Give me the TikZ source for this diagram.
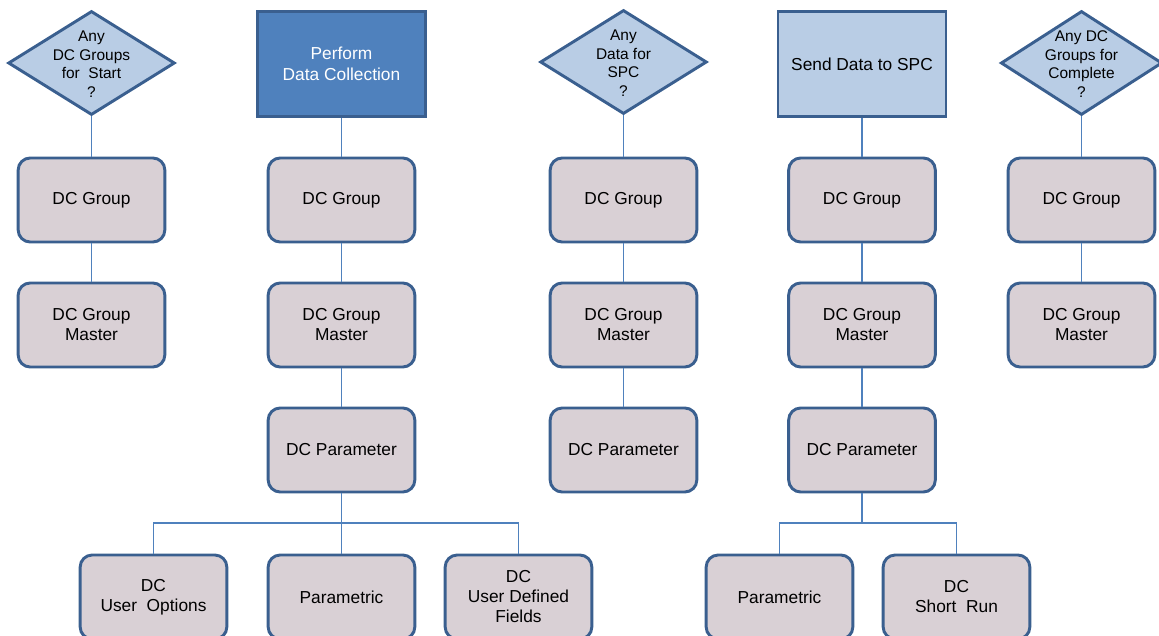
\documentclass[tikz,border=0pt]{standalone}
\usepackage{fontspec}
\setmainfont{Liberation Sans}
\usepackage{xcolor}
\usepackage{tikz}
\usetikzlibrary{shapes.geometric}

\definecolor{edgeblue}{HTML}{3A5F8F}
\definecolor{linkblue}{HTML}{4F81BD}
\definecolor{darkfill}{HTML}{4F81BD}
\definecolor{lightfill}{HTML}{B9CDE5}
\definecolor{boxfill}{HTML}{D9D0D5}

\begin{document}
\begin{tikzpicture}[x=0.75pt,y=-0.75pt,
  tbl/.style={rectangle,rounded corners=9pt,draw=edgeblue,line width=2.2pt,fill=boxfill,
    minimum width=110pt,minimum height=63pt,align=center,font=\fontsize{13}{15}\selectfont},
  task/.style={rectangle,draw=edgeblue,line width=2.2pt,minimum width=126pt,minimum height=79pt,
    align=center,font=\fontsize{13}{15.5}\selectfont},
  ask/.style={diamond,draw=edgeblue,line width=2.2pt,fill=lightfill,inner sep=0pt,
    minimum width=125pt,minimum height=78pt},
  asktext/.style={align=center,font=\fontsize{11.6}{13.9}\selectfont},
  link/.style={draw=linkblue,line width=0.8pt}]
  \path[use as bounding box,clip] (0,0) rectangle (1159,635);

  % column 1
  \node[ask] (q1) at (91.5,63) {};
  \node[asktext] (q1t) at (91.5,64) {Any\\DC Groups\\for\ \ Start\\?};
  \node[tbl] (g1) at (91.5,200) {DC Group};
  \node[tbl] (m1) at (91.5,325) {DC Group\\Master};

  % column 2
  \node[task,fill=darkfill,text=white] (t2) at (341.5,64) {Perform\\Data Collection};
  \node[tbl] (g2) at (341.5,200) {DC Group};
  \node[tbl] (m2) at (341.5,325) {DC Group\\Master};
  \node[tbl] (p2) at (341.5,450) {DC Parameter};
  \node[tbl] (u2) at (153.5,597) {DC\\User\ \ Options};
  \node[tbl] (r2) at (341.5,597) {Parametric};
  \node[tbl] (f2) at (518.5,597) {DC\\User Defined\\Fields};
  \coordinate (j2) at (341.5,523);

  % column 3
  \node[ask] (q3) at (623.5,62) {};
  \node[asktext] (q3t) at (623.5,63) {Any\\Data for\\SPC\\?};
  \node[tbl] (g3) at (623.5,200) {DC Group};
  \node[tbl] (m3) at (623.5,325) {DC Group\\Master};
  \node[tbl] (p3) at (623.5,450) {DC Parameter};

  % column 4
  \node[task,fill=lightfill] (t4) at (862,64) {Send Data to SPC};
  \node[tbl] (g4) at (862,200) {DC Group};
  \node[tbl] (m4) at (862,325) {DC Group\\Master};
  \node[tbl] (p4) at (862,450) {DC Parameter};
  \node[tbl] (r4) at (779.5,597) {Parametric};
  \node[tbl] (s4) at (956.5,597) {DC\\Short\ \ Run};
  \coordinate (j4) at (862,523);

  % column 5
  \node[ask,minimum width=121pt] (q5) at (1081.5,63) {};
  \node[asktext] (q5t) at (1081.5,64) {Any DC\\Groups for\\Complete\\?};
  \node[tbl] (g5) at (1081.5,200) {DC Group};
  \node[tbl] (m5) at (1081.5,325) {DC Group\\Master};

  % links
  \draw[link] (q1) -- (g1) -- (m1);
  \draw[link] (t2) -- (g2) -- (m2) -- (p2) -- (j2) -- (r2);
  \draw[link] (j2) -| (u2);
  \draw[link] (j2) -| (f2);
  \draw[link] (q3) -- (g3) -- (m3) -- (p3);
  \draw[link] (t4) -- (g4) -- (m4) -- (p4) -- (j4);
  \draw[link] (j4) -| (r4);
  \draw[link] (j4) -| (s4);
  \draw[link] (q5) -- (g5) -- (m5);
\end{tikzpicture}
\end{document}
